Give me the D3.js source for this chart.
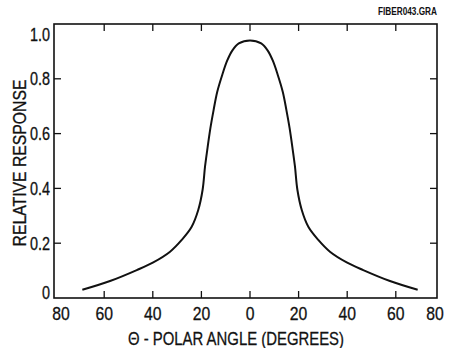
<!DOCTYPE html>
<html><head><meta charset="utf-8">
<script src="https://cdn.jsdelivr.net/npm/d3@7"></script>
<style>body{margin:0;background:#fff} text{font-family:"Liberation Sans Narrow","Arial Narrow","Liberation Sans",sans-serif;fill:#111;stroke:#111;stroke-width:0.3px}</style>
</head><body><svg id="c" width="451" height="348"></svg>
<script>
const angles = [-69,-57.6,-46.6,-39.8,-32.9,-28.1,-24,-21.3,-19.5,-18.5,-17.6,-16.3,-15,-13.5,-11.4,-9.4,-7.3,-4.6,0,4.6,7.3,9.4,11.4,13.5,15,16.3,17.6,18.5,19.5,21.3,24,28.1,32.9,39.8,46.6,57.6,69];
const response = [0.030,0.062,0.102,0.130,0.169,0.212,0.260,0.321,0.395,0.480,0.540,0.620,0.685,0.752,0.815,0.866,0.903,0.929,0.940,0.929,0.903,0.866,0.815,0.752,0.685,0.620,0.540,0.480,0.395,0.321,0.260,0.212,0.169,0.130,0.102,0.062,0.030];
const xTickValues = [-80,-60,-40,-20,0,20,40,60,80];
const xTickLabels = ["80","60","40","20","0","20","40","60","80"];
const yTickValues = [0,0.2,0.4,0.6,0.8,1.0];
const yTickLabels = ["0","0.2","0.4","0.6","0.8","1.0"];
const xTitle = "\u0398 - POLAR ANGLE (DEGREES)";
const yTitle = "RELATIVE RESPONSE";
const fileTag = "FIBER043.GRA";

const svg = d3.select("#c");
const frame = {left:54, top:24, right:437, bottom:298};
const x = d3.scaleLinear().domain([-80,80]).range([55.6,444.4]);
const y = d3.scaleLinear().domain([0,1]).range([frame.bottom, frame.top]);
const SX = 0.83;

svg.append("rect").attr("x",frame.left).attr("y",frame.top)
  .attr("width",frame.right-frame.left).attr("height",frame.bottom-frame.top)
  .attr("fill","none").attr("stroke","#111").attr("stroke-width",1.6);

const inner = xTickValues.slice(1,-1);
const innerY = yTickValues.slice(1,-1);
const T = 7;
svg.append("g").selectAll("line").data(inner).join("line")
  .attr("x1",d=>x(d)).attr("x2",d=>x(d)).attr("y1",frame.bottom).attr("y2",frame.bottom-T)
  .attr("stroke","#111").attr("stroke-width",1.3);
svg.append("g").selectAll("line").data(inner).join("line")
  .attr("x1",d=>x(d)).attr("x2",d=>x(d)).attr("y1",frame.top).attr("y2",frame.top+T)
  .attr("stroke","#111").attr("stroke-width",1.3);
svg.append("g").selectAll("line").data(innerY).join("line")
  .attr("y1",d=>y(d)).attr("y2",d=>y(d)).attr("x1",frame.left).attr("x2",frame.left+T)
  .attr("stroke","#111").attr("stroke-width",1.3);
svg.append("g").selectAll("line").data(innerY).join("line")
  .attr("y1",d=>y(d)).attr("y2",d=>y(d)).attr("x1",frame.right).attr("x2",frame.right-T)
  .attr("stroke","#111").attr("stroke-width",1.3);

svg.append("g").selectAll("text").data(xTickValues).join("text")
  .attr("transform",d=>`translate(${Math.min(Math.max(x(d),frame.left+7),frame.right-2)},319.5) scale(${SX},1)`)
  .attr("text-anchor","middle").attr("font-size",19)
  .text((d,i)=>xTickLabels[i]);

svg.append("g").selectAll("text").data(yTickValues).join("text")
  .attr("transform",d=>`translate(50,${Math.min(Math.max(y(d),frame.top+11),frame.bottom-5)}) scale(0.8,1)`)
  .attr("dy","0.36em").attr("text-anchor","end").attr("font-size",18)
  .text((d,i)=>yTickLabels[i]);

svg.append("text").attr("x",236).attr("y",344.5).attr("text-anchor","middle")
  .attr("font-size",19).attr("textLength",216).attr("lengthAdjust","spacingAndGlyphs").text(xTitle);
svg.append("text").attr("transform","translate(26,163) rotate(-90)")
  .attr("text-anchor","middle").attr("font-size",17.5)
  .attr("textLength",167).attr("lengthAdjust","spacingAndGlyphs").text(yTitle);
svg.append("text").attr("x",437).attr("y",15).attr("text-anchor","end")
  .attr("font-size",10).attr("font-weight","bold").style("stroke-width","0px")
  .attr("textLength",59).attr("lengthAdjust","spacingAndGlyphs").text(fileTag);

const pts = angles.map((a,i)=>[a,response[i]]);
svg.append("path").datum(pts)
  .attr("fill","none").attr("stroke","#111").attr("stroke-width",2)
  .attr("d", d3.line().x(d=>x(d[0])).y(d=>y(d[1])).curve(d3.curveCatmullRom.alpha(0.5)));
</script></body></html>
